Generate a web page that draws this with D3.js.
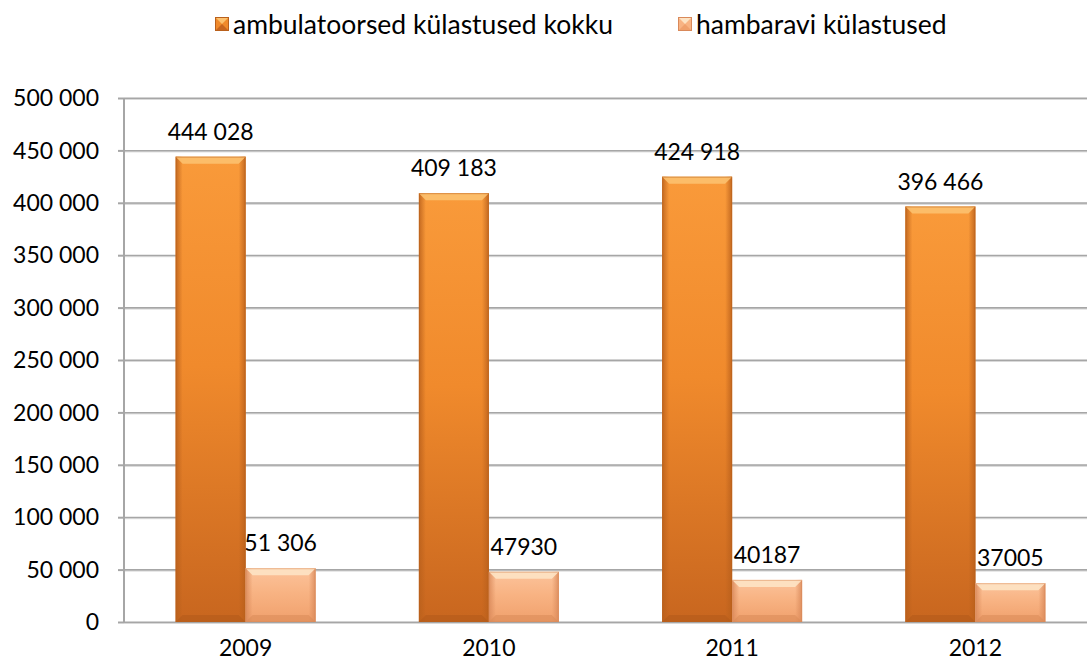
<!DOCTYPE html>
<html><head><meta charset="utf-8">
<script src="https://cdn.jsdelivr.net/npm/d3@7"></script>
<style>
html,body{margin:0;padding:0;background:#fff;}
svg{display:block;font-family:Lato,"Open Sans",sans-serif;}
</style></head>
<body>
<svg id="c" width="1087" height="665"></svg>
<script>
const years = ["2009","2010","2011","2012"];
const seriesNames = ["ambulatoorsed külastused kokku","hambaravi külastused"];
const ambulatoorsed = [444028, 409183, 424918, 396466];
const hambaravi = [51306, 47930, 40187, 37005];
const ambulatoorsedLabels = ["444 028","409 183","424 918","396 466"];
const hambaraviLabels = ["51 306","47930","40187","37005"];
const yTicks = [0,50000,100000,150000,200000,250000,300000,350000,400000,450000,500000];
const yTickLabels = ["0","50 000","100 000","150 000","200 000","250 000","300 000","350 000","400 000","450 000","500 000"];

const svg = d3.select("#c");
const W = 1087, H = 665;
const plot = {left:124, right:1097, top:98, bottom:622};
const FS = 23;
const LFS = 26.5;

const y = d3.scaleLinear().domain([0,500000]).range([plot.bottom, plot.top]);
const x0 = d3.scaleBand().domain(years).range([plot.left, plot.right]).padding(0);
const x1 = d3.scaleBand().domain([0,1]).range([0, x0.bandwidth()]).paddingInner(0).paddingOuter(0.738);

const defs = svg.append("defs");
const palettes = [
  {id:"s0", top:"#f99a3a", mid:"#f08a2c", bot:"#c8661f", hi:"#fcc16f", edge:"#b9601c", bottomEdge:"#b05a19"},
  {id:"s1", top:"#fcc39b", mid:"#f8b383", bot:"#f0a06c", hi:"#fde3c4", edge:"#d9895a", bottomEdge:"#d88a58"}
];
palettes.forEach(p=>{
  const g = defs.append("linearGradient").attr("id",p.id).attr("x1",0).attr("y1",0).attr("x2",0).attr("y2",1);
  g.append("stop").attr("offset","0%").attr("stop-color",p.top);
  g.append("stop").attr("offset","45%").attr("stop-color",p.mid);
  g.append("stop").attr("offset","100%").attr("stop-color",p.bot);
  const gl = defs.append("linearGradient").attr("id",p.id+"L").attr("x1",0).attr("y1",0).attr("x2",1).attr("y2",0);
  gl.append("stop").attr("offset","0%").attr("stop-color",p.edge).attr("stop-opacity",0.85);
  gl.append("stop").attr("offset","100%").attr("stop-color",p.edge).attr("stop-opacity",0);
  const gr = defs.append("linearGradient").attr("id",p.id+"R").attr("x1",1).attr("y1",0).attr("x2",0).attr("y2",0);
  gr.append("stop").attr("offset","0%").attr("stop-color",p.edge).attr("stop-opacity",0.85);
  gr.append("stop").attr("offset","100%").attr("stop-color",p.edge).attr("stop-opacity",0);
});

// gridlines
const grid = svg.append("g");
yTicks.forEach(t=>{
  grid.append("line").attr("x1",plot.left).attr("x2",W).attr("y1",y(t)+0.5).attr("y2",y(t)+0.5)
    .attr("stroke","#a6a6a6").attr("stroke-width",2);
  grid.append("line").attr("x1",plot.left).attr("x2",W).attr("y1",y(t)+1.5).attr("y2",y(t)+1.5)
    .attr("stroke","#d9d9d9").attr("stroke-width",1);
});
// y axis line
svg.append("line").attr("x1",plot.left).attr("x2",plot.left).attr("y1",plot.top).attr("y2",plot.bottom+1)
  .attr("stroke","#a6a6a6").attr("stroke-width",2);
yTicks.forEach(t=>{
  svg.append("line").attr("x1",plot.left-6).attr("x2",plot.left).attr("y1",y(t)+0.5).attr("y2",y(t)+0.5)
   .attr("stroke","#a6a6a6").attr("stroke-width",2);
});

// y tick labels
svg.append("g").selectAll("text").data(yTicks).join("text")
  .attr("x",99).attr("y",d=>y(d)).attr("dy","0.36em").attr("text-anchor","end")
  .attr("font-size",FS).attr("fill","#000").text((d,i)=>yTickLabels[i]);

// x labels
svg.append("g").selectAll("text").data(years).join("text")
  .attr("x",d=>x0(d)+x0.bandwidth()/2).attr("y",656).attr("text-anchor","middle")
  .attr("font-size",FS).attr("fill","#000").text(d=>d);

function bevelBar(g, bx, by, bw, bh, p){
  if(bh<=0) return;
  const b = Math.min(7, bh/2);
  g.append("rect").attr("x",bx).attr("y",by).attr("width",bw).attr("height",bh).attr("fill",`url(#${p.id})`);
  g.append("rect").attr("x",bx).attr("y",by).attr("width",7).attr("height",bh).attr("fill",`url(#${p.id}L)`);
  g.append("rect").attr("x",bx+bw-7).attr("y",by).attr("width",7).attr("height",bh).attr("fill",`url(#${p.id}R)`);
  g.append("path").attr("d",`M${bx},${by}L${bx+bw},${by}L${bx+bw-b},${by+b}L${bx+b},${by+b}Z`)
    .attr("fill",p.hi).attr("opacity",0.9);
  g.append("path").attr("d",`M${bx},${by+bh}L${bx+bw},${by+bh}L${bx+bw-b},${by+bh-b}L${bx+b},${by+bh-b}Z`)
    .attr("fill",p.bottomEdge).attr("opacity",0.55);
  g.append("rect").attr("x",bx+0.5).attr("y",by+0.5).attr("width",bw-1).attr("height",bh-1)
    .attr("fill","none").attr("stroke",p.edge).attr("stroke-opacity",0.5);
}

const series = [ambulatoorsed, hambaravi];
const labels = [ambulatoorsedLabels, hambaraviLabels];
const barsG = svg.append("g");
const labG = svg.append("g");
series.forEach((vals, si)=>{
  years.forEach((yr, i)=>{
    const bx = x0(yr)+x1(si), bw = x1.bandwidth();
    const by = y(vals[i]);
    labG.append("text").attr("x",bx+bw/2).attr("y",by-17).attr("text-anchor","middle")
      .attr("font-size",FS).attr("fill","#000").text(labels[si][i]);
  });
});
series.forEach((vals, si)=>{
  years.forEach((yr, i)=>{
    const bx = x0(yr)+x1(si), bw = x1.bandwidth();
    const by = y(vals[i]), bh = y(0)-y(vals[i]);
    bevelBar(barsG, bx, by, bw, bh, palettes[si]);
  });
});
labG.raise();

// legend
const leg = svg.append("g");
const legItems = [{x:215, name:seriesNames[0], p:palettes[0]},{x:678, name:seriesNames[1], p:palettes[1]}];
legItems.forEach(it=>{
  const g = leg.append("g");
  const s = 14, lx = it.x, ly = 17;
  g.append("rect").attr("x",lx).attr("y",ly).attr("width",s).attr("height",s).attr("fill",it.p.mid);
  g.append("path").attr("d",`M${lx},${ly}L${lx+s},${ly}L${lx+s/2},${ly+s/2}Z`).attr("fill",it.p.hi);
  g.append("path").attr("d",`M${lx},${ly+s}L${lx+s},${ly+s}L${lx+s/2},${ly+s/2}Z`).attr("fill",it.p.bot);
  g.append("rect").attr("x",lx+0.5).attr("y",ly+0.5).attr("width",s-1).attr("height",s-1).attr("fill","none").attr("stroke",it.p.edge);
  g.append("text").attr("x",lx+s+4).attr("y",ly+s/2).attr("dy","0.36em").attr("font-size",LFS)
    .attr("fill","#000").text(it.name);
});
</script>
</body></html>
